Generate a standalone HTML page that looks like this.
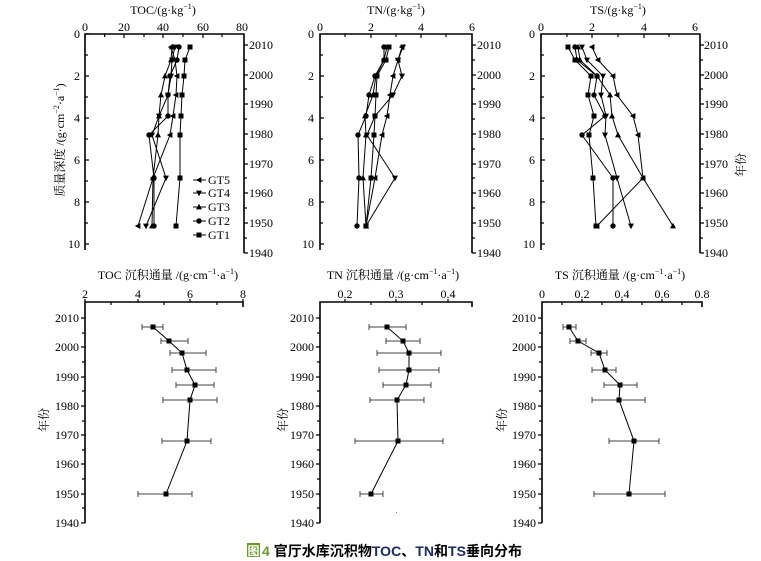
<!DOCTYPE html>
<html><head><meta charset="utf-8"><style>
html,body{margin:0;padding:0;background:#fff}
svg{display:block}
text{font-family:"Liberation Serif","Noto Serif CJK SC",serif;font-size:12px;fill:#000}
.r{text-anchor:end}.m{text-anchor:middle}
.ax{stroke:#000;stroke-width:1.6;fill:none}
.t{stroke:#000;stroke-width:1.2}
.l{stroke:#000;stroke-width:1;fill:none}
.e{stroke:#444;stroke-width:1;fill:none}
</style></head><body>
<svg width="761" height="561" viewBox="0 0 761 561" xmlns="http://www.w3.org/2000/svg">
<defs>
<rect id="sq" x="-2.5" y="-2.5" width="5" height="5" fill="#000"/>
<circle id="ci" r="2.7" fill="#000"/>
<polygon id="up" points="0,-3.2 3,2.4 -3,2.4" fill="#000"/>
<polygon id="dn" points="0,3.2 3,-2.4 -3,-2.4" fill="#000"/>
<polygon id="lt" points="-3.2,0 2.4,-3 2.4,3" fill="#000"/>
</defs>

<!-- ============ TOP TOC ============ -->
<text x="163" y="14" class="m">TOC/(g·kg<tspan font-size="8" dy="-5">−1</tspan><tspan dy="5">)</tspan></text>
<g class="m"><text x="85" y="31">0</text><text x="124" y="31">20</text><text x="163" y="31">40</text><text x="203" y="31">60</text><text x="242" y="31">80</text></g>
<path class="ax" d="M85,250V34H244V253"/>
<path class="t" d="M85,34v4M104.6,34v3M124,34v4M144,34v3M163,34v4M183,34v3M203,34v4M222,34v3
M85,55h3M85,76h4M85,97h3M85,118h4M85,139h3M85,160h4M85,181h3M85,202h4M85,223h3M85,244h4M85,34h4
M244,45h4M244,60h3M244,75h4M244,89h3M244,104h4M244,119h3M244,134h4M244,149h3M244,164h4M244,178h3M244,193h4M244,208h3M244,223h4M244,238h3M244,253h4"/>
<g class="r"><text x="80" y="38">0</text><text x="80" y="80">2</text><text x="80" y="122">4</text><text x="80" y="164">6</text><text x="80" y="206">8</text><text x="80" y="248">10</text></g>
<g><text x="249" y="49">2010</text><text x="249" y="79">2000</text><text x="249" y="108">1990</text><text x="249" y="138">1980</text><text x="249" y="168">1970</text><text x="249" y="197">1960</text><text x="249" y="227">1950</text><text x="249" y="257">1940</text></g>
<text transform="translate(64,140) rotate(-90)" class="m">质量深度 /(g·cm<tspan font-size="8" dy="-5">−2</tspan><tspan dy="5">·a</tspan><tspan font-size="8" dy="-5">−1</tspan><tspan dy="5">)</tspan></text>
<polyline class="l" points="190,47 185,60 184,76 182,95 181,116 180,135 180,178 176,226"/>
<polyline class="l" points="179,47 177,60 170,76 168,95 168,116 149,135 154,178 154,226"/>
<polyline class="l" points="172,47 171,60 165,76 161,95 159,116 158,135 153,178 152,226"/>
<polyline class="l" points="175,47 172,60 171,76 168,95 159,116 152,135 166,178 146,226"/>
<polyline class="l" points="171,47 175,60 177,76 176,95 173,116 170,135 153,178 138,226"/>
<g fill="#000">
<use href="#sq" x="190" y="47"/><use href="#sq" x="185" y="60"/><use href="#sq" x="184" y="76"/><use href="#sq" x="182" y="95"/><use href="#sq" x="181" y="116"/><use href="#sq" x="180" y="135"/><use href="#sq" x="180" y="178"/><use href="#sq" x="176" y="226"/>
<use href="#ci" x="179" y="47"/><use href="#ci" x="177" y="60"/><use href="#ci" x="170" y="76"/><use href="#ci" x="168" y="95"/><use href="#ci" x="168" y="116"/><use href="#ci" x="149" y="135"/><use href="#ci" x="154" y="178"/><use href="#ci" x="154" y="226"/>
<use href="#up" x="172" y="47"/><use href="#up" x="171" y="60"/><use href="#up" x="165" y="76"/><use href="#up" x="161" y="95"/><use href="#up" x="159" y="116"/><use href="#up" x="158" y="135"/><use href="#up" x="153" y="178"/><use href="#up" x="152" y="226"/>
<use href="#dn" x="175" y="47"/><use href="#dn" x="172" y="60"/><use href="#dn" x="171" y="76"/><use href="#dn" x="168" y="95"/><use href="#dn" x="159" y="116"/><use href="#dn" x="152" y="135"/><use href="#dn" x="166" y="178"/><use href="#dn" x="146" y="226"/>
<use href="#lt" x="171" y="47"/><use href="#lt" x="175" y="60"/><use href="#lt" x="177" y="76"/><use href="#lt" x="176" y="95"/><use href="#lt" x="173" y="116"/><use href="#lt" x="170" y="135"/><use href="#lt" x="153" y="178"/><use href="#lt" x="138" y="226"/>
</g>
<!-- legend -->
<path class="l" d="M193,180h13M193,193h13M193,207h13M193,221h13M193,235h13"/>
<use href="#lt" x="199" y="180"/><use href="#dn" x="199" y="193"/><use href="#up" x="199" y="207"/><use href="#ci" x="199" y="221"/><use href="#sq" x="199" y="235"/>
<g><text x="208" y="184">GT5</text><text x="208" y="197">GT4</text><text x="208" y="211">GT3</text><text x="208" y="225">GT2</text><text x="208" y="239">GT1</text></g>

<!-- ============ TOP TN ============ -->
<text x="396" y="14" class="m">TN/(g·kg<tspan font-size="8" dy="-5">−1</tspan><tspan dy="5">)</tspan></text>
<g class="m"><text x="320" y="31">0</text><text x="371" y="31">2</text><text x="421" y="31">4</text><text x="472" y="31">6</text></g>
<path class="ax" d="M320,250V34H472V253"/>
<path class="t" d="M320,34v4M345,34v3M371,34v4M396,34v3M421,34v4M446,34v3
M320,55h3M320,76h4M320,97h3M320,118h4M320,139h3M320,160h4M320,181h3M320,202h4M320,223h3M320,244h4
M472,45h4M472,60h3M472,75h4M472,89h3M472,104h4M472,119h3M472,134h4M472,149h3M472,164h4M472,178h3M472,193h4M472,208h3M472,223h4M472,238h3M472,253h4"/>
<g class="r"><text x="314" y="38">0</text><text x="314" y="80">2</text><text x="314" y="122">4</text><text x="314" y="164">6</text><text x="314" y="206">8</text><text x="314" y="248">10</text></g>
<g><text x="477" y="49">2010</text><text x="477" y="79">2000</text><text x="477" y="108">1990</text><text x="477" y="138">1980</text><text x="477" y="168">1970</text><text x="477" y="197">1960</text><text x="477" y="227">1950</text><text x="477" y="257">1940</text></g>
<polyline class="l" points="389,47 386,60 377,76 376,95 375,116 374,135 371,178 366,226"/>
<polyline class="l" points="384,47 384,60 375,76 369,95 366,116 358,135 359,178 357,226"/>
<polyline class="l" points="387,47 384,60 376,76 373,95 365,116 366,135 363,178 366,226"/>
<polyline class="l" points="403,47 398,60 402,76 393,95 375,116 367,135 395,178 366,226"/>
<polyline class="l" points="402,47 398,60 393,76 390,95 387,116 382,135 375,178 366,226"/>
<g>
<use href="#sq" x="389" y="47"/><use href="#sq" x="386" y="60"/><use href="#sq" x="377" y="76"/><use href="#sq" x="376" y="95"/><use href="#sq" x="375" y="116"/><use href="#sq" x="374" y="135"/><use href="#sq" x="371" y="178"/><use href="#sq" x="366" y="226"/>
<use href="#ci" x="384" y="47"/><use href="#ci" x="384" y="60"/><use href="#ci" x="375" y="76"/><use href="#ci" x="369" y="95"/><use href="#ci" x="366" y="116"/><use href="#ci" x="358" y="135"/><use href="#ci" x="359" y="178"/><use href="#ci" x="357" y="226"/>
<use href="#up" x="387" y="47"/><use href="#up" x="384" y="60"/><use href="#up" x="376" y="76"/><use href="#up" x="373" y="95"/><use href="#up" x="365" y="116"/><use href="#up" x="366" y="135"/><use href="#up" x="363" y="178"/><use href="#up" x="366" y="226"/>
<use href="#dn" x="403" y="47"/><use href="#dn" x="398" y="60"/><use href="#dn" x="402" y="76"/><use href="#dn" x="393" y="95"/><use href="#dn" x="375" y="116"/><use href="#dn" x="367" y="135"/><use href="#dn" x="395" y="178"/><use href="#dn" x="366" y="226"/>
<use href="#lt" x="402" y="47"/><use href="#lt" x="398" y="60"/><use href="#lt" x="393" y="76"/><use href="#lt" x="390" y="95"/><use href="#lt" x="387" y="116"/><use href="#lt" x="382" y="135"/><use href="#lt" x="375" y="178"/><use href="#lt" x="366" y="226"/>
</g>

<!-- ============ TOP TS ============ -->
<text x="618" y="14" class="m">TS/(g·kg<tspan font-size="8" dy="-5">−1</tspan><tspan dy="5">)</tspan></text>
<g class="m"><text x="541" y="31">0</text><text x="592" y="31">2</text><text x="644" y="31">4</text><text x="695" y="31">6</text></g>
<path class="ax" d="M541,250V34H700V253"/>
<path class="t" d="M541,34v4M567,34v3M592,34v4M618,34v3M644,34v4M669,34v3
M541,55h3M541,76h4M541,97h3M541,118h4M541,139h3M541,160h4M541,181h3M541,202h4M541,223h3M541,244h4
M700,45h4M700,60h3M700,75h4M700,89h3M700,104h4M700,119h3M700,134h4M700,149h3M700,164h4M700,178h3M700,193h4M700,208h3M700,223h4M700,238h3M700,253h4"/>
<g class="r"><text x="535" y="38">0</text><text x="535" y="80">2</text><text x="535" y="122">4</text><text x="535" y="164">6</text><text x="535" y="206">8</text><text x="535" y="248">10</text></g>
<g style="font-size:11.5px"><text x="704" y="49">2010</text><text x="704" y="79">2000</text><text x="704" y="108">1990</text><text x="704" y="138">1980</text><text x="704" y="168">1970</text><text x="704" y="197">1960</text><text x="704" y="227">1950</text><text x="704" y="257">1940</text></g>
<text transform="translate(745,165) rotate(-90)" class="m">年份</text>
<polyline class="l" points="568,47 575,60 591,76 588,95 594,116 589,135 593,178 596,226"/>
<polyline class="l" points="575,47 577,60 597,76 594,95 605,116 582,135 613,178 613,226"/>
<polyline class="l" points="578,47 580,60 597,76 610,95 612,116 618,135 643,178 673,226"/>
<polyline class="l" points="582,47 587,60 603,76 601,95 606,116 605,135 617,178 631,226"/>
<polyline class="l" points="592,47 598,60 613,76 617,95 633,116 638,135 643,178 597,226"/>
<g>
<use href="#sq" x="568" y="47"/><use href="#sq" x="575" y="60"/><use href="#sq" x="591" y="76"/><use href="#sq" x="588" y="95"/><use href="#sq" x="594" y="116"/><use href="#sq" x="589" y="135"/><use href="#sq" x="593" y="178"/><use href="#sq" x="596" y="226"/>
<use href="#ci" x="575" y="47"/><use href="#ci" x="577" y="60"/><use href="#ci" x="597" y="76"/><use href="#ci" x="594" y="95"/><use href="#ci" x="605" y="116"/><use href="#ci" x="582" y="135"/><use href="#ci" x="613" y="178"/><use href="#ci" x="613" y="226"/>
<use href="#up" x="578" y="47"/><use href="#up" x="580" y="60"/><use href="#up" x="597" y="76"/><use href="#up" x="610" y="95"/><use href="#up" x="612" y="116"/><use href="#up" x="618" y="135"/><use href="#up" x="643" y="178"/><use href="#up" x="673" y="226"/>
<use href="#dn" x="582" y="47"/><use href="#dn" x="587" y="60"/><use href="#dn" x="603" y="76"/><use href="#dn" x="601" y="95"/><use href="#dn" x="606" y="116"/><use href="#dn" x="605" y="135"/><use href="#dn" x="617" y="178"/><use href="#dn" x="631" y="226"/>
<use href="#lt" x="592" y="47"/><use href="#lt" x="598" y="60"/><use href="#lt" x="613" y="76"/><use href="#lt" x="617" y="95"/><use href="#lt" x="633" y="116"/><use href="#lt" x="638" y="135"/><use href="#lt" x="643" y="178"/><use href="#lt" x="597" y="226"/>
</g>

<!-- ============ BOTTOM TOC ============ -->
<text x="168" y="279" class="m">TOC 沉积通量 /(g·cm<tspan font-size="8" dy="-5">−1</tspan><tspan dy="5">·a</tspan><tspan font-size="8" dy="-5">−1</tspan><tspan dy="5">)</tspan></text>
<g class="m"><text x="85" y="298">2</text><text x="138" y="298">4</text><text x="190" y="298">6</text><text x="243" y="298">8</text></g>
<path class="ax" d="M85,523V302H243V307"/>
<path class="t" d="M85,302v-3M111,302v3M138,302v-3M164,302v3M190,302v-3M217,302v3M243,302v-3
M85,318h-4M85,333h-3M85,347h-4M85,362h-3M85,377h-4M85,391h-3M85,406h-4M85,421h-3M85,435h-4M85,450h-3M85,464h-4M85,479h-3M85,494h-4M85,508h-3M85,523h-4"/>
<g class="r"><text x="79" y="322">2010</text><text x="79" y="351">2000</text><text x="79" y="381">1990</text><text x="79" y="410">1980</text><text x="79" y="439">1970</text><text x="79" y="468">1960</text><text x="79" y="498">1950</text><text x="79" y="527">1940</text></g>
<text transform="translate(48,420) rotate(-90)" class="m">年份</text>
<path class="e" d="M142,327h21M161,341h27M170,353h36M172,370h44M176,385h38M163,400h54M162,441h49M138,494h54
M142,324v6M163,324v6M161,338v6M188,338v6M170,350v6M206,350v6M172,367v6M216,367v6M176,382v6M214,382v6M163,397v6M217,397v6M162,438v6M211,438v6M138,491v6M192,491v6"/>
<polyline class="l" points="153,327 169,341 182,353 187,370 195,385 190,400 187,441 166,494"/>
<g><use href="#sq" x="153" y="327"/><use href="#sq" x="169" y="341"/><use href="#sq" x="182" y="353"/><use href="#sq" x="187" y="370"/><use href="#sq" x="195" y="385"/><use href="#sq" x="190" y="400"/><use href="#sq" x="187" y="441"/><use href="#sq" x="166" y="494"/></g>

<!-- ============ BOTTOM TN ============ -->
<text x="393" y="279" class="m">TN 沉积通量 /(g·cm<tspan font-size="8" dy="-5">−1</tspan><tspan dy="5">·a</tspan><tspan font-size="8" dy="-5">−1</tspan><tspan dy="5">)</tspan></text>
<g class="m"><text x="345" y="298">0.2</text><text x="396" y="298">0.3</text><text x="448" y="298">0.4</text></g>
<path class="ax" d="M320,523V302H472V307"/>
<path class="t" d="M345,302v-3M371,302v3M396,302v-3M422,302v3M448,302v-3
M320,318h-4M320,333h-3M320,347h-4M320,362h-3M320,377h-4M320,391h-3M320,406h-4M320,421h-3M320,435h-4M320,450h-3M320,464h-4M320,479h-3M320,494h-4M320,508h-3M320,523h-4"/>
<g class="r"><text x="314" y="322">2010</text><text x="314" y="351">2000</text><text x="314" y="381">1990</text><text x="314" y="410">1980</text><text x="314" y="439">1970</text><text x="314" y="468">1960</text><text x="314" y="498">1950</text><text x="314" y="527">1940</text></g>
<text transform="translate(287,420) rotate(-90)" class="m">年份</text>
<path class="e" d="M369,327h37M386,341h34M377,353h64M379,370h60M383,385h48M370,400h54M355,441h88M360,494h23
M369,324v6M406,324v6M386,338v6M420,338v6M377,350v6M441,350v6M379,367v6M439,367v6M383,382v6M431,382v6M370,397v6M424,397v6M355,438v6M443,438v6M360,491v6M383,491v6"/>
<polyline class="l" points="387,327 403,341 409,353 409,370 406,385 397,400 398,441 371,494"/>
<g><use href="#sq" x="387" y="327"/><use href="#sq" x="403" y="341"/><use href="#sq" x="409" y="353"/><use href="#sq" x="409" y="370"/><use href="#sq" x="406" y="385"/><use href="#sq" x="397" y="400"/><use href="#sq" x="398" y="441"/><use href="#sq" x="371" y="494"/></g>
<rect x="396" y="512" width="1" height="1" fill="#888"/>

<!-- ============ BOTTOM TS ============ -->
<text x="620" y="279" class="m">TS 沉积通量 /(g·cm<tspan font-size="8" dy="-5">−1</tspan><tspan dy="5">·a</tspan><tspan font-size="8" dy="-5">−1</tspan><tspan dy="5">)</tspan></text>
<g class="m"><text x="542" y="298">0</text><text x="582" y="298">0.2</text><text x="622" y="298">0.4</text><text x="662" y="298">0.6</text><text x="702" y="298">0.8</text></g>
<path class="ax" d="M542,523V302H702V307"/>
<path class="t" d="M562,302v3M582,302v-3M602,302v3M622,302v-3M642,302v3M662,302v-3M682,302v3
M542,318h-4M542,333h-3M542,347h-4M542,362h-3M542,377h-4M542,391h-3M542,406h-4M542,421h-3M542,435h-4M542,450h-3M542,464h-4M542,479h-3M542,494h-4M542,508h-3M542,523h-4"/>
<g class="r"><text x="536" y="322">2010</text><text x="536" y="351">2000</text><text x="536" y="381">1990</text><text x="536" y="410">1980</text><text x="536" y="439">1970</text><text x="536" y="468">1960</text><text x="536" y="498">1950</text><text x="536" y="527">1940</text></g>
<text transform="translate(506,420) rotate(-90)" class="m">年份</text>
<path class="e" d="M563,327h13M570,341h16M591,353h16M592,370h24M604,385h33M592,400h53M609,441h50M594,494h71
M563,324v6M576,324v6M570,338v6M586,338v6M591,350v6M607,350v6M592,367v6M616,367v6M604,382v6M637,382v6M592,397v6M645,397v6M609,438v6M659,438v6M594,491v6M665,491v6"/>
<polyline class="l" points="569,327 578,341 599,353 605,370 620,385 619,400 634,441 629,494"/>
<g><use href="#sq" x="569" y="327"/><use href="#sq" x="578" y="341"/><use href="#sq" x="599" y="353"/><use href="#sq" x="605" y="370"/><use href="#sq" x="620" y="385"/><use href="#sq" x="619" y="400"/><use href="#sq" x="634" y="441"/><use href="#sq" x="629" y="494"/></g>

<!-- caption -->
<rect x="247" y="543" width="13" height="14" fill="#6a9a2a"/>
<text x="253.5" y="555" class="m" style="font-family:'Liberation Sans','Noto Sans CJK SC',sans-serif;font-size:12px;font-weight:bold;fill:#fff">图</text>
<text x="262" y="556" textLength="260" style="font-family:'Liberation Sans','Noto Sans CJK SC',sans-serif;font-size:14px;font-weight:bold"><tspan fill="#6a9a2a">4</tspan> 官厅水库沉积物<tspan fill="#1a2a6a">TOC</tspan>、<tspan fill="#1a2a6a">TN</tspan>和<tspan fill="#1a2a6a">TS</tspan>垂向分布</text>
</svg>
</body></html>
